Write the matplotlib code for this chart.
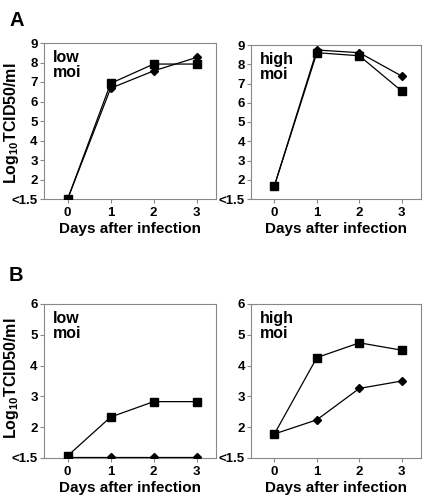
import numpy as np
import matplotlib.pyplot as plt

plt.rcParams['font.family'] = ['Liberation Sans', 'DejaVu Sans']
plt.rcParams['font.weight'] = 'bold'
plt.rcParams['mathtext.fontset'] = 'custom'
plt.rcParams['mathtext.bf'] = 'Liberation Sans:bold'
plt.rcParams['mathtext.rm'] = 'Liberation Sans:bold'

days = [0, 1, 2, 3]

# panel A (value 1 stands for "<1.5")
a_low_sq = [1.0, 6.93, 7.92, 7.92]
a_low_di = [1.0, 6.68, 7.57, 8.26]
a_high_sq = [1.68, 8.6, 8.44, 6.6]
a_high_di = [1.68, 8.74, 8.6, 7.38]

# panel B
b_low_sq = [1.07, 2.33, 2.83, 2.83]
b_low_di = [1.02, 1.02, 1.02, 1.02]
b_high_sq = [1.78, 4.26, 4.74, 4.5]
b_high_di = [1.78, 2.24, 3.26, 3.5]

a_ticks = [1, 2, 3, 4, 5, 6, 7, 8, 9]
a_labels = ['<1.5', '2', '3', '4', '5', '6', '7', '8', '9']
b_ticks = [1, 2, 3, 4, 5, 6]
b_labels = ['<1.5', '2', '3', '4', '5', '6']

fig = plt.figure(figsize=(4.33, 4.97), dpi=100)

W, H = 433, 497


def make_ax(x0, x1, ytop, ybot):
    return fig.add_axes([x0 / W, 1 - ybot / H, (x1 - x0) / W, (ybot - ytop) / H])


def style(ax, sq, di, ticks, labels, txt):
    ax.plot(days, di, color='black', lw=0.9, marker='D', ms=4, zorder=3)
    ax.plot(days, sq, color='black', lw=0.9, marker='s', ms=5.5, zorder=4)
    ax.set_xlim(-0.55, 3.45)
    ax.set_ylim(ticks[0], ticks[-1])
    ax.set_yticks(ticks)
    ax.set_yticklabels(labels)
    ax.set_xticks(days)
    for s in ax.spines.values():
        s.set_color('#888888')
        s.set_linewidth(0.8)
    ax.tick_params(direction='out', length=3, width=0.8, color='#888888',
                   labelsize=9.5, pad=1.5)
    ax.tick_params(axis='x', pad=2.5)
    for lab in ax.get_xticklabels() + ax.get_yticklabels():
        lab.set_fontweight('bold')
    ax.set_xlabel('Days after infection', fontsize=11, fontweight='bold', labelpad=2.5)
    ax.text(0.05, 0.955, txt, transform=ax.transAxes, ha='left', va='top',
            fontsize=11.5, fontweight='bold', linespacing=1.0)


ax1 = make_ax(44, 216, 43, 199)
style(ax1, a_low_sq, a_low_di, a_ticks, a_labels, 'low\nmoi')
ax2 = make_ax(251, 421, 45, 199)
style(ax2, a_high_sq, a_high_di, a_ticks, a_labels, 'high\nmoi')
ax3 = make_ax(44, 216, 304, 458)
style(ax3, b_low_sq, b_low_di, b_ticks, b_labels, 'low\nmoi')
ax4 = make_ax(251, 421, 304, 458)
style(ax4, b_high_sq, b_high_di, b_ticks, b_labels, 'high\nmoi')

fig.text(9 / W, 1 - 11 / H, 'A', fontsize=14.5, fontweight='bold', va='top')
fig.text(9 / W, 1 - 266 / H, 'B', fontsize=14.5, fontweight='bold', va='top')

ylab = r'Log$_{\mathbf{10}}$TCID50/ml'
fig.text(12 / W, 1 - 123 / H, ylab, rotation=90,
         ha='center', va='center', fontsize=11.5, fontweight='bold')
fig.text(12 / W, 1 - 378 / H, ylab, rotation=90,
         ha='center', va='center', fontsize=11.5, fontweight='bold')

fig.savefig('out.png', dpi=100)
